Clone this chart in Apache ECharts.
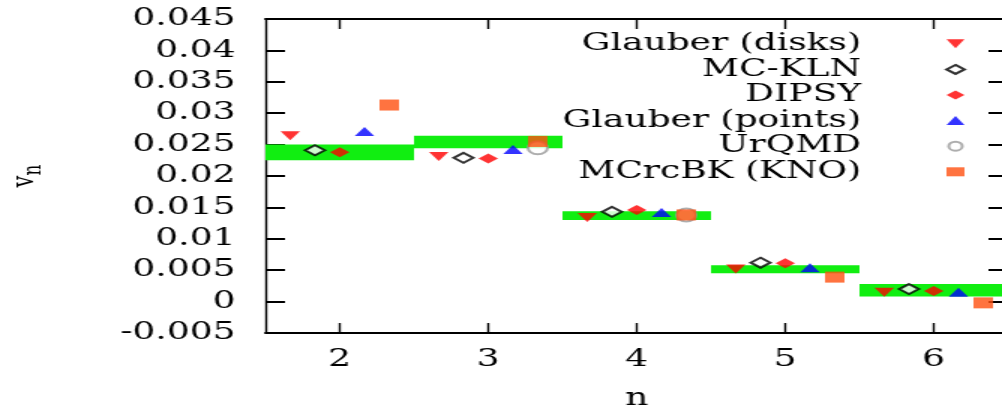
<!DOCTYPE html>
<html>
<head>
<meta charset="utf-8">
<script src="https://cdn.jsdelivr.net/npm/echarts@6/dist/echarts.min.js"></script>
<style>
  html, body { margin: 0; padding: 0; background: #fff; overflow: hidden; }
  /* the reference is stretched sideways, so draw narrow and widen */
  #main { width: 668px; height: 407px; transform: scaleX(1.5); transform-origin: 0 0; }
</style>
</head>
<body>
<div id="main"></div>
<script>
// 数据
var nValues = [2, 3, 4, 5, 6]
var yTicks = [-0.005, 0, 0.005, 0.01, 0.015, 0.02, 0.025, 0.03, 0.035, 0.04, 0.045]

// green band (measurement)
var bandLow = [0.0225, 0.0244, 0.0130, 0.0045, 0.0008]
var bandHigh = [0.0250, 0.0264, 0.0144, 0.0058, 0.0028]

var glauberDisks = [0.0264, 0.0231, 0.0134, 0.0052, 0.0015]
var mcKln = [0.0241, 0.0229, 0.0143, 0.0062, 0.0020]
var dipsy = [0.0238, 0.0228, 0.0146, 0.0061, 0.0017]
var glauberPoints = [0.0271, 0.0242, 0.0142, 0.0054, 0.0015]
var urqmd = [null, 0.0245, 0.0138, null, null] // hidden behind squares
var mcrcbk = [0.0313, 0.0255, 0.0138, 0.0039, -0.0002]

var FONT = 'DejaVu Serif'
var downTri = 'path://M0,0L10,0L5,8Z'

function pts(vals, shift) {
  return nValues.map(function (n, i) {
    return vals[i] == null ? [n + shift, '-'] : [n + shift, vals[i]]
  })
}

var myChart = echarts.init(document.getElementById('main'))

var markers = [
  { name: 'Glauber (disks)', vals: glauberDisks, shift: -1 / 3, symbol: downTri, size: [13, 9], style: { color: '#ff0000' } },
  { name: 'MC-KLN', vals: mcKln, shift: -1 / 6, symbol: 'emptyDiamond', size: [13, 10], style: { color: '#000', borderColor: '#000', borderWidth: 1.2 } },
  { name: 'DIPSY', vals: dipsy, shift: 0, symbol: 'diamond', size: [13, 10], style: { color: '#ff0000' } },
  { name: 'Glauber (points)', vals: glauberPoints, shift: 1 / 6, symbol: 'triangle', size: [13, 9], style: { color: '#0000ff' } },
  { name: 'UrQMD', vals: urqmd, shift: 1 / 3, symbol: 'emptyCircle', size: 13, style: { color: '#999', borderColor: '#999', borderWidth: 1 } },
  { name: 'MCrcBK (KNO)', vals: mcrcbk, shift: 1 / 3, symbol: 'rect', size: [13, 11], style: { color: '#ff5010' } }
]

var series = [{
  type: 'custom',
  name: 'band',
  clip: true,
  z: 1,
  data: nValues.map(function (n, i) { return [n, bandLow[i], bandHigh[i]] }),
  renderItem: function (params, api) {
    var n = api.value(0)
    var p1 = api.coord([n - 0.5, api.value(2)])
    var p2 = api.coord([n + 0.5, api.value(1)])
    return {
      type: 'rect',
      shape: { x: p1[0], y: p1[1], width: p2[0] - p1[0], height: p2[1] - p1[1] },
      style: { fill: '#11ee11' }
    }
  }
}]

markers.forEach(function (m) {
  series.push({
    type: 'scatter',
    name: m.name,
    z: 2,
    symbol: m.symbol,
    symbolSize: m.size,
    itemStyle: m.style,
    data: pts(m.vals, m.shift)
  })
})

var option = {
  animation: false,
  textStyle: { fontFamily: FONT },
  grid: { left: 177, right: -4, top: 19, bottom: 74, outerBoundsMode: 'none' },
  legend: {
    orient: 'vertical',
    align: 'right',
    right: 24,
    top: 31,
    padding: 0,
    itemGap: 0,
    itemWidth: 12,
    itemHeight: 9,
    symbolKeepAspect: false,
    data: markers.map(function (m) { return m.name }),
    textStyle: { fontFamily: FONT, fontSize: 24, color: '#000', lineHeight: 25.6, padding: [0, 52, 0, 0] }
  },
  xAxis: [{
    type: 'value',
    min: 1.5,
    max: 6.5,
    name: 'n',
    nameLocation: 'middle',
    nameGap: 54,
    nameTextStyle: { fontFamily: FONT, fontSize: 24, color: '#000' },
    axisLine: { onZero: false, lineStyle: { color: '#000', width: 2 } },
    axisTick: { inside: true, length: 10, customValues: nValues, lineStyle: { color: '#000', width: 1.4 } },
    axisLabel: { customValues: nValues, margin: 15, fontFamily: FONT, fontSize: 24, color: '#000' },
    splitLine: { show: false }
  }, {
    type: 'value',
    position: 'top',
    min: 1.5,
    max: 6.5,
    axisLine: { onZero: false, lineStyle: { color: '#000', width: 2 } },
    axisTick: { inside: true, length: 10, customValues: nValues, lineStyle: { color: '#000', width: 1.4 } },
    axisLabel: { show: false },
    splitLine: { show: false }
  }],
  yAxis: [{
    type: 'value',
    min: -0.005,
    max: 0.045,
    interval: 0.005,
    name: 'v{sub|n}',
    nameLocation: 'middle',
    nameRotate: 90,
    nameGap: 146,
    nameTextStyle: {
      fontFamily: FONT, fontSize: 21, color: '#000',
      rich: { sub: { fontFamily: FONT, fontSize: 17, color: '#000', padding: [12, 0, 0, 0] } }
    },
    axisLine: { onZero: false, lineStyle: { color: '#000', width: 1.4 } },
    axisTick: { inside: true, length: 13, lineStyle: { color: '#000', width: 2 } },
    axisLabel: {
      margin: 20, fontFamily: FONT, fontSize: 24, color: '#000',
      formatter: function (v) { return v === 0 ? '0' : String(+v.toFixed(3)) }
    },
    splitLine: { show: false }
  }, {
    type: 'value',
    position: 'right',
    min: -0.005,
    max: 0.045,
    interval: 0.005,
    axisLine: { onZero: false, lineStyle: { color: '#000', width: 1.4 } },
    axisTick: { inside: true, length: 13, lineStyle: { color: '#000', width: 2 } },
    axisLabel: { show: false },
    splitLine: { show: false }
  }],
  series: series
}

myChart.setOption(option)
</script>
</body>
</html>
